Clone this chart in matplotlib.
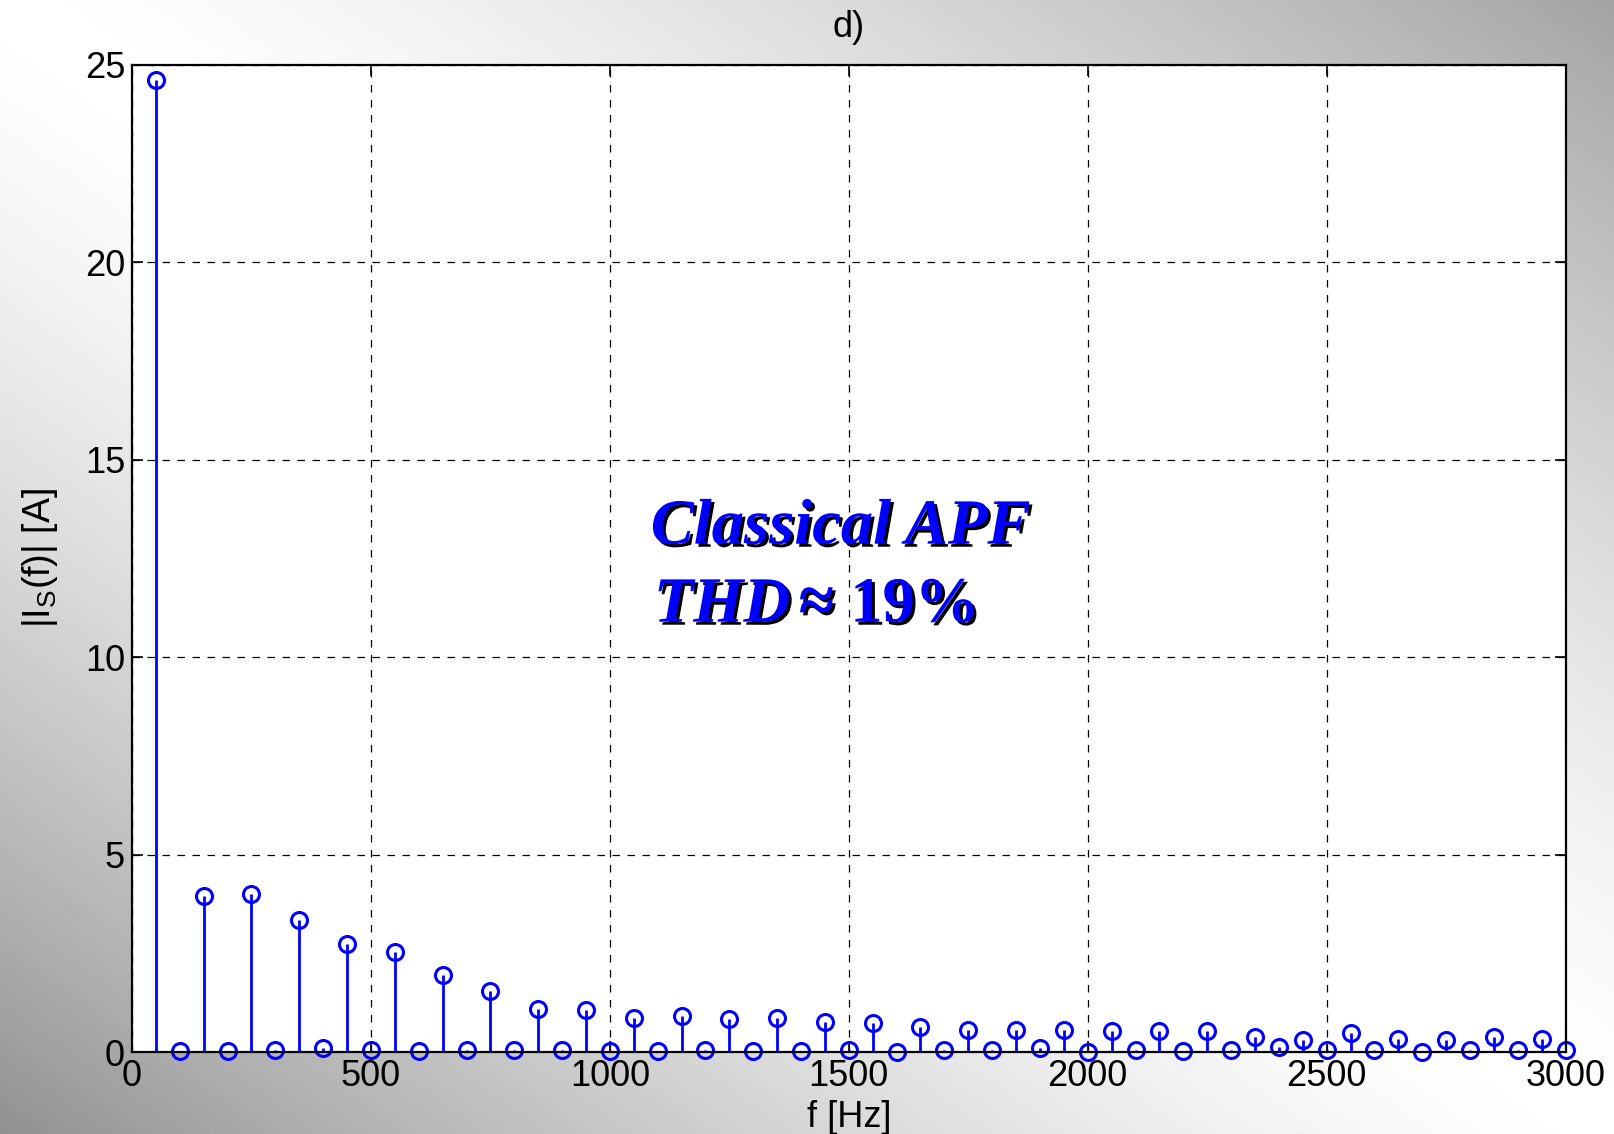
import numpy as np
import matplotlib
matplotlib.use("Agg")
import matplotlib.pyplot as plt
import matplotlib.patheffects as pe

# harmonic spectrum of the source current (50 Hz grid)
freq = np.arange(50, 3001, 50)
odd_amp = [24.63, 3.94, 4.01, 3.34, 2.74, 2.53, 1.96, 1.54, 1.09, 1.07,
           0.86, 0.91, 0.83, 0.86, 0.76, 0.73, 0.63, 0.55, 0.55, 0.57,
           0.52, 0.52, 0.52, 0.39, 0.31, 0.47, 0.34, 0.31, 0.37, 0.34]
even_amp = [0.02, 0.02, 0.05, 0.10, 0.05, 0.02, 0.05, 0.05, 0.05, 0.02,
            0.02, 0.05, 0.02, 0.02, 0.05, 0.00, 0.05, 0.05, 0.10, 0.00,
            0.05, 0.02, 0.05, 0.12, 0.05, 0.05, 0.00, 0.05, 0.05, 0.05]
amp = np.empty(len(freq))
amp[0::2] = odd_amp
amp[1::2] = even_amp

xticks = [0, 500, 1000, 1500, 2000, 2500, 3000]
yticks = [0, 5, 10, 15, 20, 25]

plt.rcParams['font.family'] = ['Liberation Sans', 'DejaVu Sans']
plt.rcParams['mathtext.fontset'] = 'custom'
plt.rcParams['mathtext.rm'] = 'Liberation Sans'

fig = plt.figure(figsize=(16.14, 11.34), dpi=100)

# gray background, light along the main diagonal
bg = fig.add_axes([0, 0, 1, 1], zorder=0)
gx, gy = np.meshgrid(np.linspace(0, 1, 400), np.linspace(0, 1, 300))
d = gx - gy
shade = np.where(d > 0, 255 - 92 * np.abs(d) ** 1.4, 255 - 110 * np.abs(d) ** 1.4)
bg.imshow(shade, cmap='gray', vmin=0, vmax=255, aspect='auto', extent=[0, 1, 1, 0])
bg.axis("off")

ax = fig.add_axes([0.0818, 0.0723, 0.8882, 0.8704], zorder=1)
ax.set_facecolor('white')
ml, sl, bl = ax.stem(freq, amp, linefmt='b-', markerfmt='bo', basefmt=' ')
sl.set_linewidth(2.0)
ml.set_markerfacecolor('none')
ml.set_markersize(11.5)
ml.set_markeredgewidth(2.2)
ml.set_clip_on(False)

ax.set_xlim(0, 3000)
ax.set_ylim(0, 25)
ax.set_xticks(xticks)
ax.set_yticks(yticks)
ax.tick_params(direction='in', length=8, width=1.2, labelsize=26, top=True, right=True, pad=5)
ax.grid(True, color='k', linestyle=(0, (6, 6)), linewidth=0.9)
for s in ax.spines.values():
    s.set_linewidth(1.6)

ax.set_title("d)", fontsize=26, pad=20)
ax.set_xlabel("f [Hz]", fontsize=26, labelpad=4)
ax.set_ylabel("|I$_\\mathregular{S}$(f)| [A]", fontsize=27, labelpad=18)

shadow = [pe.withSimplePatchShadow(offset=(2.2, -2.2), shadow_rgbFace='k', alpha=1.0)]
ax.text(0.3618, 0.5150, "Classical APF", transform=ax.transAxes, fontsize=46.5,
        family='Liberation Serif', weight='bold', style='italic', color='#0000ff',
        path_effects=shadow)
ax.text(0.3640, 0.4360, "THD", transform=ax.transAxes, fontsize=46.5,
        family='Liberation Serif', weight='bold', style='italic', color='#0000ff',
        path_effects=shadow)
ax.text(0.4650, 0.4360, "\u2248 19%", transform=ax.transAxes, fontsize=46.5,
        family='Liberation Serif', weight='bold', color='#0000ff',
        path_effects=shadow)

plt.savefig("out.png", dpi=100)
plt.close()
